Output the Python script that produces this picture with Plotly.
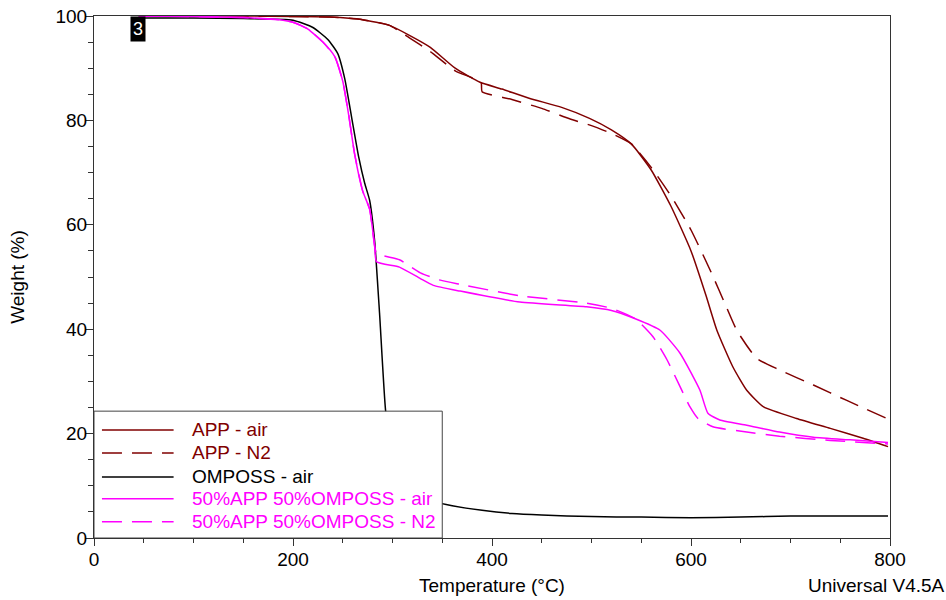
import plotly.graph_objects as go

# ---- data ----
app_air_T = [45, 150, 200, 237, 270, 297, 317, 338, 363, 388, 410, 438, 470, 498, 520, 540,
             560, 580, 600, 615, 626, 642, 656, 673, 706, 740, 773, 798]
app_air_W = [100, 100, 99.9, 99.8, 99.3, 98.2, 96.3, 94.0, 90.0, 87.3, 86.0, 84.2, 82.5, 80.4, 78.2, 75.5,
             70.5, 63.5, 55.0, 46.5, 39.8, 32.8, 28.3, 25.1, 22.9, 21.0, 19.1, 17.5]

app_n2_T = [45, 150, 200, 237, 270, 297, 317, 338, 363, 389, 390, 420, 450, 478, 500, 520, 540,
            560, 580, 600, 620, 635, 646, 666, 689, 723, 756, 798]
app_n2_W = [100, 100, 99.9, 99.8, 99.3, 98.2, 95.8, 93.2, 89.5, 87.3, 85.5, 84.0, 82.3, 80.3, 79.0, 77.5, 75.5,
            71.0, 65.5, 59.0, 51.0, 44.5, 39.8, 34.4, 32.2, 29.3, 26.4, 22.8]

omposs_T = [45, 100, 150, 200, 220, 235, 245, 252, 259, 266, 272, 277, 282, 287, 293, 300, 310,
            330, 360, 390, 420, 450, 500, 550, 600, 650, 700, 750, 798]
omposs_W = [99.6, 99.6, 99.5, 99.2, 97.8, 95.5, 92.8, 88.0, 80.5, 73.0, 68.0, 64.7, 57.0, 43.0, 24.5, 15.0, 10.0,
            7.5, 6.2, 5.3, 4.7, 4.4, 4.1, 4.0, 3.9, 4.0, 4.2, 4.2, 4.2]

mix_air_T = [45, 100, 150, 190, 200, 215, 230, 242, 250, 256, 262, 270, 277, 282, 284, 307, 328, 341, 368,
             428, 495, 520, 544, 569, 589, 609, 617, 629, 656, 689, 723, 760, 798]
mix_air_W = [100, 99.9, 99.7, 99.2, 98.8, 97.5, 95.0, 92.2, 87.5, 81.0, 73.5, 66.5, 63.0, 56.0, 52.9, 51.9, 49.7,
             48.4, 47.3, 45.2, 44.3, 43.6, 42.0, 39.8, 35.4, 28.3, 23.9, 22.6, 21.6, 20.3, 19.3, 18.8, 18.3]

mix_n2_T = [45, 100, 150, 190, 200, 215, 230, 242, 250, 256, 262, 270, 277, 282, 284, 307, 328, 348, 368,
            428, 495, 520, 544, 562, 576, 589, 599, 607, 622, 656, 689, 740, 798]
mix_n2_W = [100, 99.9, 99.7, 99.2, 98.8, 97.5, 95.0, 92.2, 87.5, 81.0, 73.5, 66.5, 63.0, 56.0, 54.5, 53.3, 50.8,
            49.4, 48.6, 46.4, 45.0, 44.0, 42.0, 38.5, 34.1, 29.0, 25.1, 22.9, 21.3, 20.3, 19.5, 18.7, 18.0]

series_names = ["APP - air", "APP - N2", "OMPOSS - air", "50%APP 50%OMPOSS - air", "50%APP 50%OMPOSS - N2"]
series_T = [app_air_T, app_n2_T, omposs_T, mix_air_T, mix_n2_T]
series_W = [app_air_W, app_n2_W, omposs_W, mix_air_W, mix_n2_W]
series_colors = ["#800000", "#800000", "#000000", "#FF00FF", "#FF00FF"]
series_dash = ["solid", "20px,10px", "solid", "solid", "20px,10px"]

x_ticks = [0, 200, 400, 600, 800]
y_ticks = [0, 20, 40, 60, 80, 100]

FONT = "Liberation Sans, Arial, sans-serif"
FS = 19

fig = go.Figure()
for name, T, W, c, d in zip(series_names, series_T, series_W, series_colors, series_dash):
    fig.add_trace(go.Scatter(x=T, y=W, mode="lines", name=name,
                             line=dict(color=c, width=1.5, dash=d, shape="spline", smoothing=0.5),
                             showlegend=False))

# custom legend box (white, covers curves)
shapes = [dict(type="rect", xref="x", yref="y", x0=0, x1=350, y0=0, y1=24.3,
               fillcolor="white", line=dict(color="#444", width=1), layer="above")]
annotations = []
row_y = [20.7, 16.3, 11.7, 7.5, 3.1]
for name, c, d, yy in zip(series_names, series_colors, series_dash, row_y):
    shapes.append(dict(type="line", xref="x", yref="y", x0=8, x1=80, y0=yy, y1=yy,
                       line=dict(color=c, width=1.5, dash=d), layer="above"))
    annotations.append(dict(x=96, y=yy, xref="x", yref="y", text=name, showarrow=False,
                            xanchor="left", yanchor="middle", font=dict(color=c, size=FS, family=FONT)))

annotations.append(dict(x=44, y=100, xref="x", yref="y", text="3", showarrow=False,
                        xanchor="center", yanchor="top", bgcolor="black", borderpad=2,
                        font=dict(color="white", size=18, family=FONT)))
annotations.append(dict(xref="paper", yref="paper", x=1.0, y=0.0, text="Universal V4.5A", showarrow=False,
                        xanchor="right", yanchor="middle", yshift=-47, xshift=57,
                        font=dict(color="black", size=FS, family=FONT)))

fig.update_layout(
    width=946, height=600,
    margin=dict(l=94, r=56, t=16, b=62),
    paper_bgcolor="white", plot_bgcolor="white",
    font=dict(family=FONT, size=FS, color="black"),
    shapes=shapes, annotations=annotations,
)
fig.update_xaxes(range=[0, 800], tickvals=x_ticks, ticks="outside", ticklen=7, tickcolor="#333",
                 showline=True, linecolor="#333", linewidth=1, mirror=True, showgrid=False, zeroline=False,
                 minor=dict(dtick=50, ticks="outside", ticklen=4, tickcolor="#333"),
                 title=dict(text="Temperature (°C)", standoff=9, font=dict(size=FS)),
                 tickfont=dict(size=FS), automargin=False, ticklabelstandoff=-3)
fig.update_yaxes(range=[0, 100], tickvals=y_ticks, ticks="outside", ticklen=8, tickcolor="#333",
                 showline=True, linecolor="#333", linewidth=1, mirror=True, showgrid=False, zeroline=False,
                 minor=dict(dtick=5, ticks="outside", ticklen=5, tickcolor="#333"),
                 title=dict(text="Weight (%)", standoff=25, font=dict(size=FS)),
                 tickfont=dict(size=FS), automargin=False, ticklabelstandoff=-6)

fig.write_html("out.html")
